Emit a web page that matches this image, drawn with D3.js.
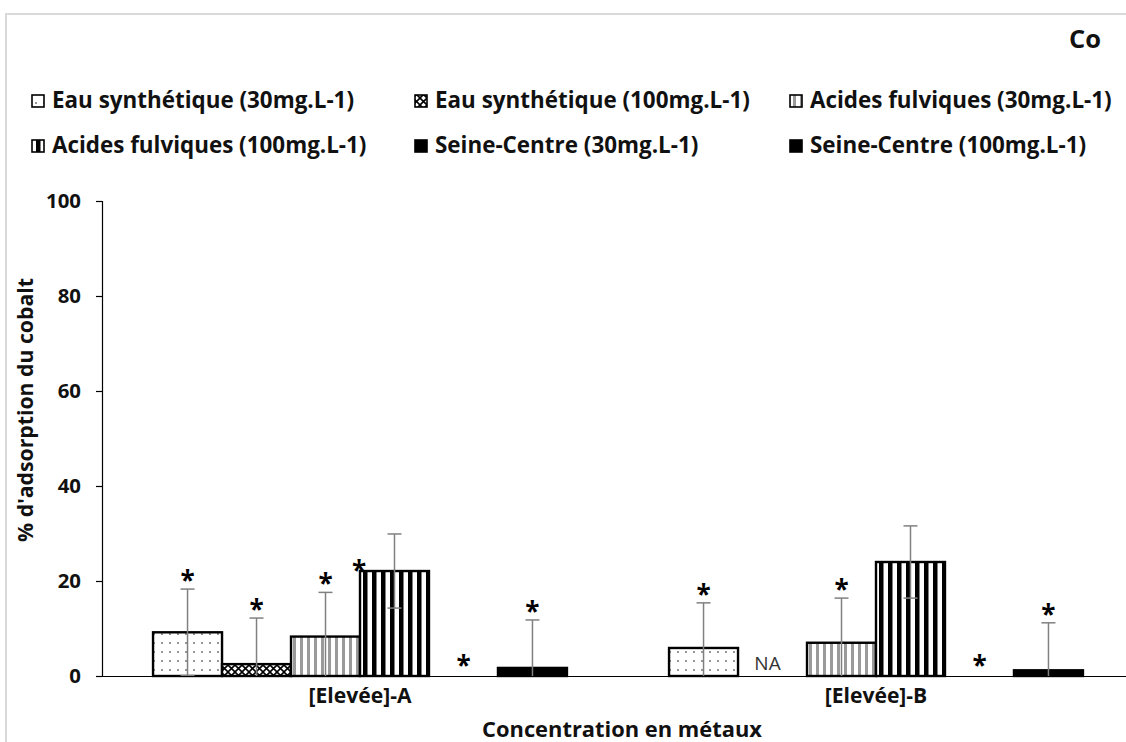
<!DOCTYPE html>
<html><head><meta charset="utf-8">
<script src="https://cdn.jsdelivr.net/npm/d3@7"></script>
<style>body{margin:0;background:#fff} svg{display:block} text{font-family:"Open Sans",Lato,sans-serif}</style>
</head><body>
<svg id="chart" width="1126" height="742"></svg>
<script>
// ---- data ----
const categories = ["[Elevée]-A", "[Elevée]-B"];
const seriesNames = ["Eau synthétique (30mg.L-1)", "Eau synthétique (100mg.L-1)", "Acides fulviques (30mg.L-1)", "Acides fulviques (100mg.L-1)", "Seine-Centre (30mg.L-1)", "Seine-Centre (100mg.L-1)"];
const valuesA = [9.2, 2.5, 8.3, 22.1, 0, 1.7];
const valuesB = [5.9, null, 7.0, 24.0, 0, 1.2];
const errorsA = [9.1, 9.7, 9.3, 7.8, 0, 10.1];
const errorsB = [9.5, null, 9.4, 7.6, 0, 10.0];
const starsA = ["err", "err", "err", "corner", "base", "err"];
const starsB = ["err", null, "err", null, "base", "err"];
const yTicks = [0, 20, 40, 60, 80, 100];
const yTitle = "% d'adsorption du cobalt";
const xTitle = "Concentration en métaux";
const chartLabel = "Co";
const naLabel = "NA";

const rows = [
  {cat: categories[0], values: valuesA, errors: errorsA, stars: starsA},
  {cat: categories[1], values: valuesB, errors: errorsB, stars: starsB}
];

const svg = d3.select("#chart");
const W = 1126, H = 742;
const plotLeft = 102, plotRight = 1134, plotTop = 201, plotBottom = 676;

// scale a text selection's font-size so its width matches a target width
function fitWidth(sel, target) {
  const node = sel.node();
  const fs = parseFloat(sel.attr("font-size"));
  const w = node.getComputedTextLength();
  if (w > 0) sel.attr("font-size", (fs * target / w).toFixed(2));
  return parseFloat(sel.attr("font-size"));
}

// frame
svg.append("path").attr("d", `M6,${H} L6,14 L${W},14`).attr("fill", "none")
  .attr("stroke", "#d9d9d9").attr("stroke-width", 2);

// patterns
const defs = svg.append("defs");
const pDots = defs.append("pattern").attr("id", "pDots").attr("patternUnits", "userSpaceOnUse")
  .attr("width", 8).attr("height", 9);
pDots.append("rect").attr("width", 8).attr("height", 9).attr("fill", "#fff");
pDots.append("circle").attr("cx", 4).attr("cy", 4).attr("r", 0.9).attr("fill", "#666");

const pCross = defs.append("pattern").attr("id", "pCross").attr("patternUnits", "userSpaceOnUse")
  .attr("width", 7).attr("height", 7);
pCross.append("rect").attr("width", 7).attr("height", 7).attr("fill", "#fff");
pCross.append("path").attr("d", "M0,0 L7,7 M7,0 L0,7").attr("stroke", "#000").attr("stroke-width", 1.6);

const pGray = defs.append("pattern").attr("id", "pGray").attr("patternUnits", "userSpaceOnUse")
  .attr("width", 7).attr("height", 10);
pGray.append("rect").attr("width", 7).attr("height", 10).attr("fill", "#fff");
pGray.append("rect").attr("x", 2).attr("width", 3).attr("height", 10).attr("fill", "#9a9a9a");

const pBlack = defs.append("pattern").attr("id", "pBlack").attr("patternUnits", "userSpaceOnUse")
  .attr("width", 9).attr("height", 10);
pBlack.append("rect").attr("width", 9).attr("height", 10).attr("fill", "#fff");
pBlack.append("rect").attr("x", 0).attr("width", 4.5).attr("height", 10).attr("fill", "#000");

const fills = ["url(#pDots)", "url(#pCross)", "url(#pGray)", "url(#pBlack)", "#000", "#000"];

// scales
const x0 = d3.scaleBand().domain(categories).range([plotLeft, plotRight]).paddingInner(0).paddingOuter(0);
const x1 = d3.scaleBand().domain(seriesNames).range([0, x0.bandwidth()]).paddingInner(0).paddingOuter(0.74);
const y = d3.scaleLinear().domain([0, 100]).range([plotBottom, plotTop]);

// bars
const groups = svg.append("g").selectAll("g").data(rows).join("g")
  .attr("transform", d => `translate(${x0(d.cat)},0)`);

groups.each(function(row) {
  const g = d3.select(this);
  seriesNames.forEach((s, i) => {
    const v = row.values[i];
    const bx = x1(s), bw = x1.bandwidth();
    if (v !== null && v > 0) {
      g.append("rect").attr("x", bx).attr("y", y(v)).attr("width", bw).attr("height", y(0) - y(v))
        .attr("fill", fills[i]).attr("stroke", "#000").attr("stroke-width", 2.4);
    }
  });
  seriesNames.forEach((s, i) => {
    const v = row.values[i], e = row.errors[i];
    const cx = x1(s) + x1.bandwidth() / 2;
    if (v !== null && e > 0) {
      const hi = v + e, lo = Math.max(0, v - e);
      g.append("line").attr("x1", cx).attr("x2", cx).attr("y1", y(lo)).attr("y2", y(hi))
        .attr("stroke", "#808080").attr("stroke-width", 1.5);
      g.append("line").attr("x1", cx - 7).attr("x2", cx + 7).attr("y1", y(hi)).attr("y2", y(hi))
        .attr("stroke", "#808080").attr("stroke-width", 1.5);
      if (v - e > 0) {
        g.append("line").attr("x1", cx - 7).attr("x2", cx + 7).attr("y1", y(lo)).attr("y2", y(lo))
          .attr("stroke", "#808080").attr("stroke-width", 1.5);
      }
    }
    const st = row.stars[i];
    if (st) {
      let sx = cx, sy;
      if (st === "err") sy = y(v + e) - 10;
      else if (st === "base") sy = y(0) - 12;
      else if (st === "corner") { sx = x1(s) - 1; sy = y(v) - 2; }
      g.append("text").attr("x", sx).attr("y", sy + 11).attr("text-anchor", "middle")
        .attr("font-size", 26).attr("font-weight", "bold").attr("fill", "#000").text("*");
    }
    if (v === null) {
      g.append("text").attr("x", cx - 5).attr("y", y(0) - 6).attr("text-anchor", "middle")
        .attr("font-size", 19).attr("fill", "#333").text(naLabel);
    }
  });
});

// x axis
const xAxis = svg.append("g").attr("transform", `translate(0,${plotBottom})`)
  .call(d3.axisBottom(x0).tickSize(0).tickPadding(12));
xAxis.select(".domain").attr("stroke", "#000").attr("stroke-width", 1.2);
xAxis.selectAll("text").attr("font-size", 18).attr("font-weight", "bold").attr("fill", "#111")
  .style("font-family", "Open Sans");
{
  const fs = fitWidth(xAxis.select(".tick text"), 103);
  xAxis.selectAll("text").attr("font-size", fs);
}

// y axis
const yAxis = svg.append("g").attr("transform", `translate(${plotLeft},0)`)
  .call(d3.axisLeft(y).tickValues(yTicks).tickSize(6).tickPadding(15));
yAxis.selectAll(".domain, line").attr("stroke", "#000").attr("stroke-width", 1.2);
yAxis.selectAll("text").attr("font-size", 19).attr("font-weight", "bold").attr("fill", "#111")
  .style("font-family", "Open Sans");
{
  const t100 = yAxis.selectAll(".tick text").filter(d => d === 100);
  const fs = fitWidth(t100, 35);
  yAxis.selectAll("text").attr("font-size", fs);
}

// titles
const yt = svg.append("text").attr("transform", `translate(33,410) rotate(-90)`)
  .attr("text-anchor", "middle").attr("font-size", 20).attr("font-weight", "bold").attr("fill", "#111").text(yTitle);
fitWidth(yt, 264);
const xt = svg.append("text").attr("x", 622).attr("y", 737).attr("text-anchor", "middle")
  .attr("font-size", 20).attr("font-weight", "bold").attr("fill", "#111").text(xTitle);
fitWidth(xt, 280);
const co = svg.append("text").attr("x", 1085).attr("y", 48).attr("text-anchor", "middle")
  .attr("font-size", 22).attr("font-weight", "bold").attr("fill", "#111").text(chartLabel);
fitWidth(co, 32);

// legend
const legCols = [32, 415, 790], legRows = [101, 146];
let legendFs = null;
seriesNames.forEach((s, i) => {
  const lx = legCols[i % 3], ly = legRows[Math.floor(i / 3)];
  svg.append("rect").attr("x", lx).attr("y", ly - 6).attr("width", 12).attr("height", 12)
    .attr("fill", fills[i]).attr("stroke", "#000").attr("stroke-width", 1.6);
  const t = svg.append("text").attr("x", lx + 20).attr("y", ly + 7).attr("font-size", legendFs || 19)
    .attr("font-weight", "bold").attr("fill", "#111").text(s);
  if (legendFs === null) legendFs = fitWidth(t, 302);
});
</script>
</body></html>
